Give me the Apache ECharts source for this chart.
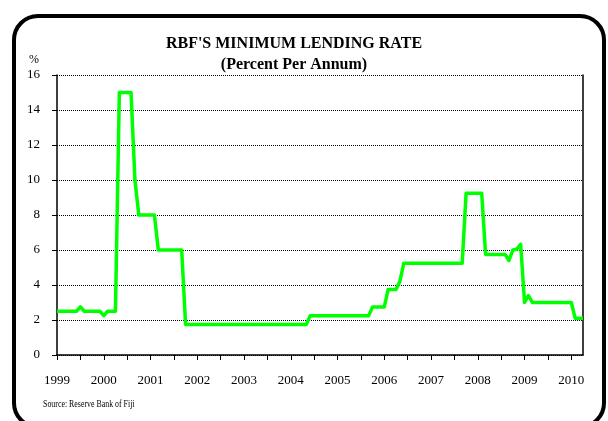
<!DOCTYPE html>
<html>
<head>
<meta charset="utf-8">
<script src="https://cdn.jsdelivr.net/npm/echarts@6/dist/echarts.min.js"></script>
<style>
html,body{margin:0;padding:0;background:#fff;}
#chart{width:608px;height:421px;}
</style>
</head>
<body>
<div id="chart"></div>
<script>
// Monthly data, Jan 1999 .. Apr 2010
var years = ['1999','2000','2001','2002','2003','2004','2005','2006','2007','2008','2009','2010'];
var monthsInLastYear = 4;
var mlr1999 = [2.5,2.5,2.5,2.5,2.5,2.5,2.75,2.5,2.5,2.5,2.5,2.5];
var mlr2000 = [2.25,2.5,2.5,2.5,15,15,15,15,10,8,8,8];
var mlr2001 = [8,8,6,6,6,6,6,6,6,1.75,1.75,1.75];
var mlr2002 = [1.75,1.75,1.75,1.75,1.75,1.75,1.75,1.75,1.75,1.75,1.75,1.75];
var mlr2003 = [1.75,1.75,1.75,1.75,1.75,1.75,1.75,1.75,1.75,1.75,1.75,1.75];
var mlr2004 = [1.75,1.75,1.75,1.75,1.75,2.25,2.25,2.25,2.25,2.25,2.25,2.25];
var mlr2005 = [2.25,2.25,2.25,2.25,2.25,2.25,2.25,2.25,2.25,2.75,2.75,2.75];
var mlr2006 = [2.75,3.75,3.75,3.75,4.2,5.25,5.25,5.25,5.25,5.25,5.25,5.25];
var mlr2007 = [5.25,5.25,5.25,5.25,5.25,5.25,5.25,5.25,5.25,9.25,9.25,9.25];
var mlr2008 = [9.25,9.25,5.75,5.75,5.75,5.75,5.75,5.75,5.4,6.0,6.05,6.32];
var mlr2009 = [3.0,3.4,3.0,3.0,3.0,3.0,3.0,3.0,3.0,3.0,3.0,3.0];
var mlr2010 = [3.0,2.1,2.1,2.1];
var yTicks = [0,2,4,6,8,10,12,14,16];

var values = [].concat(mlr1999,mlr2000,mlr2001,mlr2002,mlr2003,mlr2004,mlr2005,mlr2006,mlr2007,mlr2008,mlr2009,mlr2010);
var categories = [];
years.forEach(function(y, i){
  var n = (i === years.length - 1) ? monthsInLastYear : 12;
  for (var m = 1; m <= n; m++) categories.push(y + '-' + (m < 10 ? '0' + m : m));
});

var serif = '"Liberation Serif","Times New Roman",serif';
var chart = echarts.init(document.getElementById('chart'), null, {renderer:'canvas'});
chart.setOption({
  animation: false,
  backgroundColor: '#fff',
  grid: {left: 57, right: 25, top: 75, bottom: 66},
  xAxis: {
    type: 'category',
    data: categories,
    boundaryGap: false,
    axisLine: {lineStyle: {color: '#000', width: 1.5}},
    axisTick: {show: true, interval: 5, length: 5, inside: false, lineStyle: {color: '#000', width: 1}},
    axisLabel: {
      interval: 11, margin: 19, color: '#000', fontFamily: serif, fontSize: 13,
      formatter: function(v){ return v.slice(0,4); }
    },
    splitLine: {show: false}
  },
  yAxis: [{
    type: 'value', min: yTicks[0], max: yTicks[yTicks.length-1], interval: 2,
    axisLine: {show: true, lineStyle: {color: '#000', width: 1.5}},
    axisTick: {show: true, length: 5, lineStyle: {color: '#000', width: 1}},
    axisLabel: {margin: 17, color: '#000', fontFamily: serif, fontSize: 13},
    splitLine: {show: true, lineStyle: {color: '#000', width: 1, type: [1,1]}}
  },{
    type: 'value', min: yTicks[0], max: yTicks[yTicks.length-1], interval: 2, position: 'right',
    axisLine: {show: true, lineStyle: {color: '#000', width: 1.5}},
    axisTick: {show: false}, axisLabel: {show: false}, splitLine: {show: false}
  }],
  series: [{
    type: 'line',
    data: values,
    yAxisIndex: 0,
    showSymbol: false,
    symbol: 'none',
    lineStyle: {color: '#00FF00', width: 3.5, join: 'round'},
    z: 5
  }],
  graphic: [
    {type: 'rect', shape: {x: 14, y: 16, width: 590, height: 411, r: 24},
     style: {fill: 'none', stroke: '#000', lineWidth: 4}, silent: true, z: 10},
    {type: 'text', x: 294, y: 44, style: {text: "RBF'S MINIMUM LENDING RATE", font: 'bold 16px ' + serif, fill: '#000', textAlign: 'center', textVerticalAlign: 'middle'}},
    {type: 'text', x: 294, y: 65, style: {text: '(Percent Per Annum)', font: 'bold 16px ' + serif, fill: '#000', textAlign: 'center', textVerticalAlign: 'middle'}},
    {type: 'text', x: 34, y: 60, style: {text: '%', font: '12px ' + serif, fill: '#000', textAlign: 'center', textVerticalAlign: 'middle'}},
    {type: 'text', x: 43, y: 404, scaleX: 0.83, style: {text: 'Source: Reserve Bank of Fiji', font: '9.5px ' + serif, fill: '#000', textAlign: 'left', textVerticalAlign: 'middle'}}
  ]
});
</script>
</body>
</html>
